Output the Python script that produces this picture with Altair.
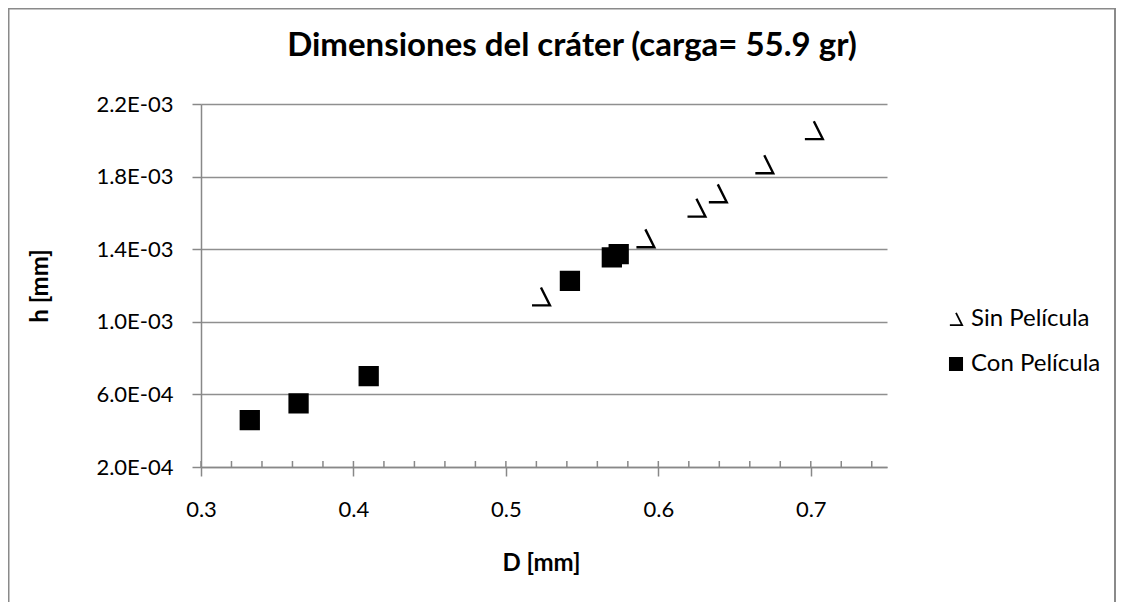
import altair as alt
import pandas as pd

# ---- data ----
series_names = ["Sin Película", "Con Película"]
sin_d = [0.523, 0.5915, 0.625, 0.639, 0.6695, 0.702]
sin_h = [1.14e-3, 1.46e-3, 1.629e-3, 1.708e-3, 1.868e-3, 2.056e-3]
con_d = [0.332, 0.364, 0.410, 0.542, 0.5695, 0.574]
con_h = [4.58e-4, 5.50e-4, 7.01e-4, 1.226e-3, 1.355e-3, 1.373e-3]

x_ticks = [0.3, 0.4, 0.5, 0.6, 0.7]
x_minor = [0.30, 0.32, 0.34, 0.36, 0.38, 0.40, 0.42, 0.44, 0.46, 0.48, 0.50,
           0.52, 0.54, 0.56, 0.58, 0.60, 0.62, 0.64, 0.66, 0.68, 0.70, 0.72, 0.74]
y_ticks = [2e-4, 6e-4, 1e-3, 1.4e-3, 1.8e-3, 2.2e-3]

df = pd.DataFrame({
    "D": sin_d + con_d,
    "h": sin_h + con_h,
    "serie": [series_names[0]] * len(sin_d) + [series_names[1]] * len(con_d),
})
minor_df = pd.DataFrame({"D": x_minor})

W, H = 686, 363
FONT = "Lato"
GRAY = "#888888"
tri_path = "M0,-1L1,1L-1,1"

x_scale = alt.Scale(domain=[0.3, 0.75], nice=False, zero=False)
y_scale = alt.Scale(domain=[2e-4, 2.2e-3], nice=False, zero=False)

x_axis = alt.Axis(
    values=x_ticks, format=".1f", title="D [mm]", grid=False,
    tickSize=9, labelPadding=23, labelFlush=False,
    titleX=340, titleY=103, titleBaseline="alphabetic", titleAlign="center")

legend = alt.Legend(
    title=None, orient="none", legendX=743, legendY=203,
    labelFont=FONT, labelFontSize=24, labelColor="black", labelOffset=3,
    symbolSize=150, symbolStrokeWidth=1.8,
    rowPadding=21, padding=0,
)

points = alt.Chart(df).mark_point(filled=True, size=320, opacity=1, strokeWidth=2.4).encode(
    x=alt.X("D:Q", scale=x_scale, axis=x_axis),
    y=alt.Y("h:Q", scale=y_scale, axis=alt.Axis(
        values=y_ticks, title="h [mm]", grid=True,
        labelExpr="replace(upper(format(datum.value, '.1e')), 'E-', 'E-0')",
        tickSize=9, labelPadding=19, labelFlush=False,
        titleX=-161, titleY=181.5, titleAngle=270, titleBaseline="middle", titleAlign="center")),
    shape=alt.Shape("serie:N", scale=alt.Scale(domain=series_names, range=[tri_path, "square"]), legend=legend),
    fill=alt.Fill("serie:N", scale=alt.Scale(domain=series_names, range=["transparent", "black"]), legend=legend),
    stroke=alt.Stroke("serie:N", scale=alt.Scale(domain=series_names, range=["black", "black"]), legend=legend),
)

minor = alt.Chart(minor_df).mark_rule(color=GRAY, strokeWidth=1.5).encode(
    x=alt.X("D:Q", scale=x_scale, axis=x_axis),
    y=alt.value(H),
    y2=alt.value(H - 6),
)

border = alt.Chart(pd.DataFrame({"a": [0]})).mark_rect(
    fill="transparent", stroke="#8a8a8a", strokeWidth=2
).encode(
    x=alt.value(-192.5), x2=alt.value(914), y=alt.value(-95.5), y2=alt.value(530)
)

chart = alt.layer(border, minor, points).properties(
    width=W, height=H,
    title=alt.TitleParams(
        text="Dimensiones del cráter (carga= 55.9 gr)", font=FONT, fontSize=33,
        fontWeight="bold", color="black", anchor="middle", frame="group",
        dx=28, dy=127.5, offset=46, baseline="alphabetic"),
    padding={"left": 193, "top": 96, "right": 229, "bottom": 135},
    autosize=alt.AutoSizeParams(type="none"),
).configure_view(strokeWidth=0).configure_axis(
    domainColor=GRAY, domainWidth=1.5, tickColor=GRAY, tickWidth=1.5,
    gridColor="#8f8f8f", gridWidth=1.5,
    labelFont=FONT, labelFontSize=22, labelColor="black",
    titleFont=FONT, titleFontSize=24, titleFontWeight="bold", titleColor="black",
)

chart.save("out.html", embed_options={"renderer": "svg", "actions": False})
